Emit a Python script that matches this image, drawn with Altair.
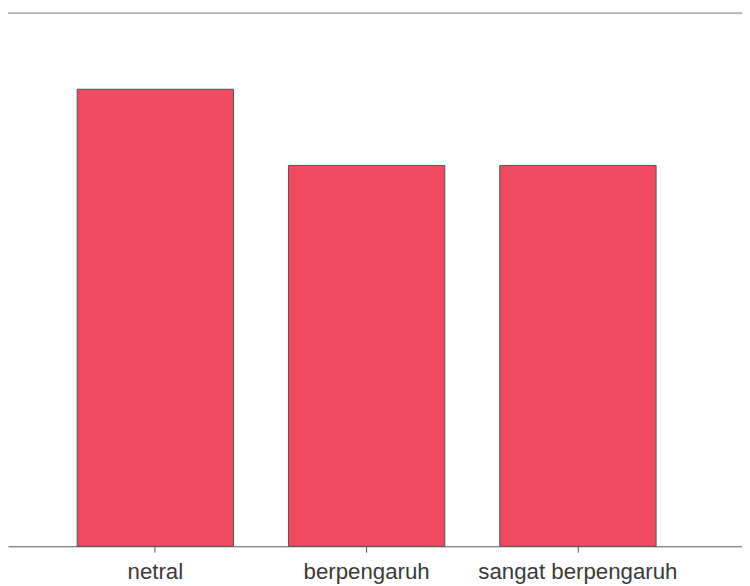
import altair as alt
import pandas as pd

categories = ["netral", "berpengaruh", "sangat berpengaruh"]
counts = [6, 5, 5]

df = pd.DataFrame({"kategori": categories, "jumlah": counts})

x = alt.X("kategori:N", sort=categories, title=None,
          scale=alt.Scale(paddingInner=0.26, paddingOuter=0.367, align=0.446),
          axis=alt.Axis(labelAngle=0, labelFont="Liberation Sans", labelFontSize=22.5,
                        labelColor="#3a3a3a", domainColor="#555555", tickColor="#555555",
                        tickSize=6, labelPadding=9, domainWidth=1, labelLimit=0))
y = alt.Y("jumlah:Q", scale=alt.Scale(domain=[0, 7], nice=False), axis=None)

bars = alt.Chart(df).mark_bar(color="#ef4a5f", stroke="#555555", strokeWidth=1).encode(x=x, y=y)

top = alt.Chart(pd.DataFrame({"v": [7]})).mark_rule(color="#777777", strokeWidth=1).encode(
    y=alt.Y("v:Q", scale=alt.Scale(domain=[0, 7], nice=False), axis=None),
    x=alt.value(0), x2=alt.value(742))

chart = alt.layer(bars, top).properties(
    width=742, height=539,
    padding={"left": 0, "top": 2, "right": 0, "bottom": 37},
    autosize=alt.AutoSizeParams(type="none"),
    background="#ffffff",
).configure_view(stroke=None)

chart.save("out.html", embed_options={"renderer": "svg", "actions": False})
